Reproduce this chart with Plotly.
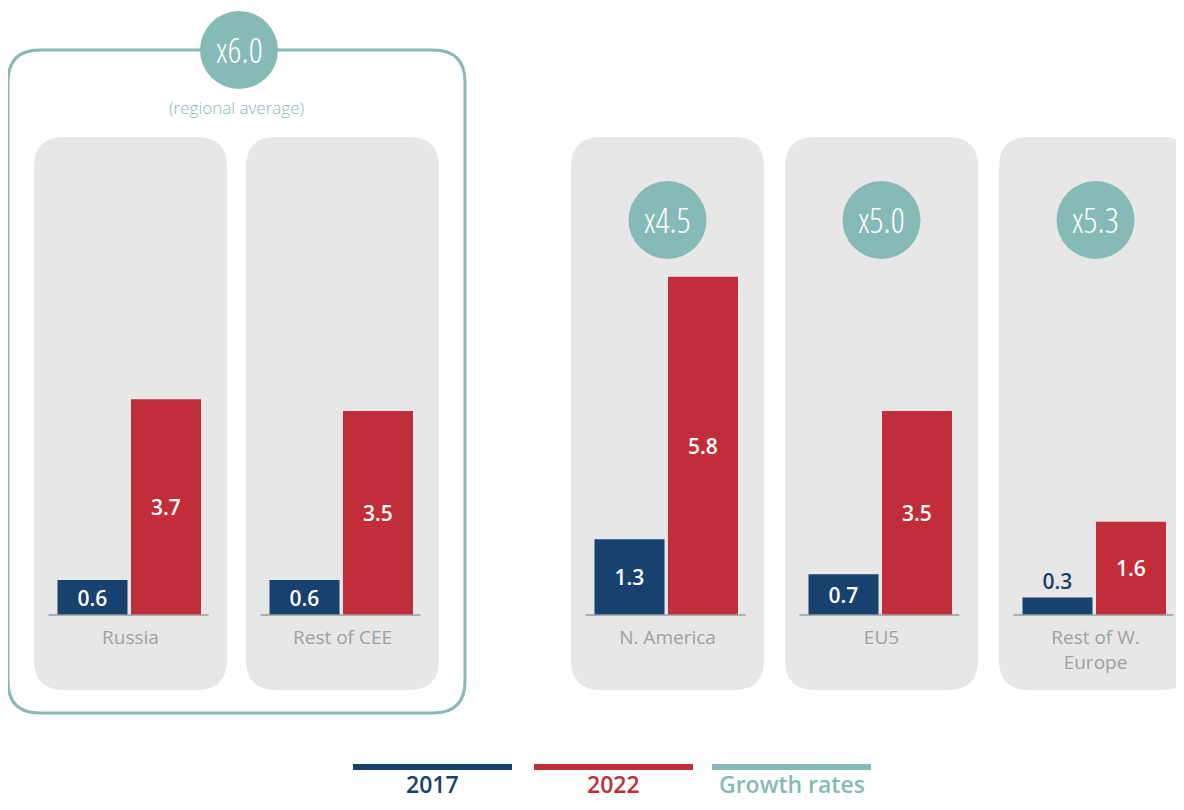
import plotly.graph_objects as go

# data
regions = ["Russia", "Rest of CEE", "N. America", "EU5", "Rest of W.<br>Europe"]
values_2017 = [0.6, 0.6, 1.3, 0.7, 0.3]
values_2022 = [3.7, 3.5, 5.8, 3.5, 1.6]
growth_labels = ["x4.5", "x5.0", "x5.3"]   # N. America, EU5, Rest of W. Europe
cee_growth_label = "x6.0"
legend_labels = ["2017", "2022", "Growth rates"]

NAVY = "#17416F"
RED = "#C12E3A"
TEAL = "#86BAB7"
PANEL = "#E7E7E7"
LABEL_GREY = "#A0A0A0"

W, H = 1184, 810
OFF = 8                # the page body margin, figure starts at (8, 8)
BASE_PX = 615          # page row of the value 0
PX_PER_UNIT = 58.3

# panel layout (page pixels)
panel_left = [34, 246, 571, 785, 999]
panel_w = 193
panel_top, panel_bottom = 137, 690
centers = [l + panel_w / 2 for l in panel_left]

FIG_W, FIG_H = W - 2 * OFF, H - 2 * OFF


def py(v):
    """page pixel row -> paper fraction"""
    return 1 - (v - OFF) / FIG_H


def rounded_rect(x0, y0, x1, y1, r):
    a, b = py(y0), py(y1)
    ra, rb = py(y0 + r), py(y1 - r)
    return (f"M {x0 + r},{a} L {x1 - r},{a} Q {x1},{a} {x1},{ra} "
            f"L {x1},{rb} Q {x1},{b} {x1 - r},{b} L {x0 + r},{b} "
            f"Q {x0},{b} {x0},{rb} L {x0},{ra} Q {x0},{a} {x0 + r},{a} Z")


fig = go.Figure()

bar_font = dict(family="Open Sans, sans-serif", size=21, color="white", weight=600)

fig.add_trace(go.Bar(
    x=centers, y=values_2017, width=70, offset=-73,
    marker=dict(color=NAVY, line=dict(width=0)),
    text=[f"{v:.1f}" for v in values_2017],
    textposition=["inside" if v >= 0.5 else "outside" for v in values_2017],
    insidetextanchor="middle", constraintext="none",
    insidetextfont=bar_font,
    outsidetextfont=dict(bar_font, color=NAVY),
    cliponaxis=False, hoverinfo="skip", name="2017", showlegend=False,
))
fig.add_trace(go.Bar(
    x=centers, y=values_2022, width=70, offset=0.5,
    marker=dict(color=RED, line=dict(width=0)),
    text=[f"{v:.1f}" for v in values_2022],
    textposition="inside",
    insidetextanchor="middle", constraintext="none",
    insidetextfont=bar_font,
    hoverinfo="skip", name="2022", showlegend=False,
))

shapes = []
# grey panels
for l in panel_left:
    shapes.append(dict(type="path", xref="x", yref="paper", layer="below",
                       path=rounded_rect(l, panel_top, l + panel_w, panel_bottom, 30),
                       fillcolor=PANEL, line=dict(width=0)))
# teal box around the CEE panels
shapes.append(dict(type="path", xref="x", yref="paper", layer="below",
                   path=rounded_rect(8, 50, 465, 713, 32),
                   fillcolor="rgba(0,0,0,0)", line=dict(color=TEAL, width=3)))
# baselines
for c in centers:
    shapes.append(dict(type="line", xref="x", yref="y", x0=c - 82, x1=c + 78,
                       y0=0, y1=0, line=dict(color="#9A9A9A", width=1.5)))

# growth circles
circles = [(239, 50, cee_growth_label)] + [(c, 220, g) for c, g in zip(centers[2:], growth_labels)]
annotations = []
R = 39
for cx, cy, lab in circles:
    shapes.append(dict(type="circle", xref="x", yref="paper",
                       x0=cx - R, x1=cx + R, y0=py(cy + R), y1=py(cy - R),
                       fillcolor=TEAL, line=dict(width=0)))
    annotations.append(dict(x=cx, y=py(cy), xref="x", yref="paper", text=lab,
                            xanchor="center", yanchor="middle", showarrow=False,
                            font=dict(family="Open Sans Condensed Light, sans-serif",
                                      size=35, color="white")))

annotations.append(dict(x=236, y=py(108), xref="x", yref="paper",
                        text="(regional average)", showarrow=False,
                        xanchor="center", yanchor="middle",
                        font=dict(family="Open Sans, sans-serif", size=17, color=TEAL, weight=300)))

# legend drawn by hand
leg_x = [(353, 512), (534, 693), (712, 871)]
leg_colors = [NAVY, RED, TEAL]
for (x0, x1), col, lab in zip(leg_x, leg_colors, legend_labels):
    shapes.append(dict(type="line", xref="x", yref="paper", x0=x0, x1=x1,
                       y0=py(767), y1=py(767), line=dict(color=col, width=6)))
    annotations.append(dict(x=(x0 + x1) / 2, y=py(784), xref="x", yref="paper",
                            text=lab, showarrow=False,
                            xanchor="center", yanchor="middle",
                            font=dict(family="Open Sans, sans-serif", size=23, color=col, weight=600)))

fig.update_layout(
    width=FIG_W, height=FIG_H,
    margin=dict(l=0, r=0, t=0, b=0),
    paper_bgcolor="white", plot_bgcolor="white",
    barmode="overlay",
    shapes=shapes, annotations=annotations,
    showlegend=False,
    xaxis=dict(range=[OFF, OFF + FIG_W], showgrid=False, zeroline=False, showline=False,
               tickvals=centers, ticktext=regions, ticks="",
               anchor="free", position=py(BASE_PX),
               tickfont=dict(family="Open Sans, sans-serif", size=19, color=LABEL_GREY),
               ticklabelstandoff=9, fixedrange=True),
    yaxis=dict(range=[-(OFF + FIG_H - BASE_PX) / PX_PER_UNIT, (BASE_PX - OFF) / PX_PER_UNIT],
               visible=False, fixedrange=True),
)

fig.write_html("out.html")
